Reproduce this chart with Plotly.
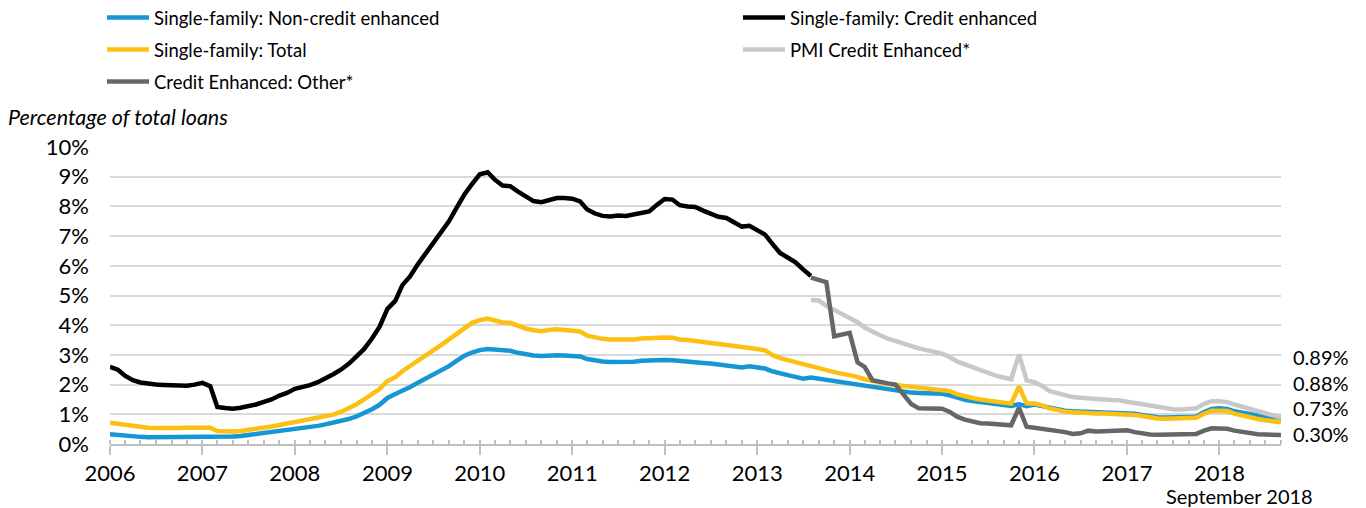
import pandas as pd
import plotly.graph_objects as go

# Monthly serious delinquency rates, % of total loans
months = pd.date_range("2006-01-01", "2018-09-01", freq="MS")

non_credit_enhanced = (
    [0.33, 0.30, 0.27, 0.25, 0.24, 0.23, 0.23, 0.23, 0.24, 0.25, 0.25, 0.26]    # 2006
    + [0.26, 0.26, 0.24, 0.24, 0.25, 0.27, 0.30, 0.34, 0.37, 0.42, 0.45, 0.49]  # 2007
    + [0.51, 0.54, 0.57, 0.61, 0.66, 0.72, 0.77, 0.84, 0.93, 1.04, 1.17, 1.32]  # 2008
    + [1.55, 1.68, 1.78, 1.92, 2.06, 2.20, 2.33, 2.47, 2.62, 2.80, 2.97, 3.08]  # 2009
    + [3.16, 3.20, 3.19, 3.16, 3.14, 3.07, 3.02, 2.98, 2.96, 2.98, 2.99, 2.98]  # 2010
    + [2.97, 2.95, 2.86, 2.81, 2.78, 2.76, 2.76, 2.75, 2.77, 2.80, 2.82, 2.83]  # 2011
    + [2.83, 2.82, 2.79, 2.78, 2.76, 2.73, 2.71, 2.68, 2.65, 2.62, 2.58, 2.62]  # 2012
    + [2.58, 2.54, 2.45, 2.37, 2.32, 2.26, 2.20, 2.24, 2.20, 2.14, 2.12, 2.08]  # 2013
    + [2.03, 2.01, 1.94, 1.90, 1.86, 1.82, 1.80, 1.76, 1.73, 1.72, 1.71, 1.70]  # 2014
    + [1.69, 1.64, 1.55, 1.49, 1.45, 1.41, 1.37, 1.34, 1.31, 1.28, 1.34, 1.27]  # 2015
    + [1.33, 1.28, 1.20, 1.15, 1.12, 1.10, 1.09, 1.08, 1.07, 1.07, 1.06, 1.05]  # 2016
    + [1.04, 1.02, 0.98, 0.93, 0.90, 0.89, 0.89, 0.89, 0.90, 0.92, 1.08, 1.18]  # 2017
    + [1.20, 1.18, 1.10, 1.04, 0.99, 0.96, 0.93, 0.91, 0.88]                    # 2018
)

credit_enhanced = (
    [2.60, 2.50, 2.30, 2.15, 2.07, 2.02, 2.00, 1.99, 1.98, 1.97, 1.96, 2.00]    # 2006
    + [2.06, 1.95, 1.25, 1.21, 1.19, 1.22, 1.27, 1.33, 1.42, 1.50, 1.63, 1.72]  # 2007
    + [1.86, 1.92, 1.98, 2.08, 2.20, 2.35, 2.50, 2.70, 2.95, 3.20, 3.55, 3.95]  # 2008
    + [4.55, 4.82, 5.35, 5.65, 6.05, 6.40, 6.75, 7.15, 7.50, 7.95, 8.40, 8.75]  # 2009
    + [9.08, 9.15, 8.90, 8.70, 8.68, 8.50, 8.32, 8.18, 8.14, 8.22, 8.28, 8.28]  # 2010
    + [8.26, 8.17, 7.90, 7.76, 7.68, 7.66, 7.69, 7.68, 7.72, 7.78, 7.83, 8.05]  # 2011
    + [8.25, 8.23, 8.04, 8.00, 7.98, 7.86, 7.75, 7.65, 7.61, 7.45, 7.32, 7.35]  # 2012
    + [7.20, 7.05, 6.75, 6.43, 6.28, 6.12, 5.88, 5.66]                          # 2013 (Jan-Aug)
)

total = (
    [0.72, 0.68, 0.63, 0.60, 0.57, 0.55, 0.54, 0.53, 0.53, 0.54, 0.55, 0.56]    # 2006
    + [0.56, 0.55, 0.44, 0.42, 0.42, 0.44, 0.47, 0.50, 0.54, 0.59, 0.64, 0.69]  # 2007
    + [0.74, 0.78, 0.82, 0.86, 0.92, 0.99, 1.08, 1.19, 1.34, 1.50, 1.68, 1.85]  # 2008
    + [2.12, 2.25, 2.45, 2.62, 2.78, 2.97, 3.15, 3.33, 3.52, 3.72, 3.92, 4.08]  # 2009
    + [4.17, 4.22, 4.16, 4.09, 4.08, 3.97, 3.89, 3.83, 3.80, 3.84, 3.86, 3.84]  # 2010
    + [3.83, 3.79, 3.65, 3.58, 3.54, 3.52, 3.51, 3.50, 3.52, 3.55, 3.57, 3.58]  # 2011
    + [3.59, 3.58, 3.52, 3.50, 3.47, 3.43, 3.39, 3.36, 3.33, 3.29, 3.25, 3.25]  # 2012
    + [3.20, 3.15, 3.00, 2.89, 2.82, 2.74, 2.67, 2.63, 2.56, 2.48, 2.42, 2.37]  # 2013
    + [2.32, 2.26, 2.18, 2.12, 2.06, 2.02, 1.99, 1.96, 1.93, 1.91, 1.89, 1.87]  # 2014
    + [1.84, 1.78, 1.68, 1.60, 1.55, 1.50, 1.46, 1.42, 1.39, 1.36, 1.94, 1.37]  # 2015
    + [1.36, 1.30, 1.20, 1.14, 1.09, 1.07, 1.05, 1.04, 1.03, 1.03, 1.02, 1.02]  # 2016
    + [1.00, 0.98, 0.94, 0.89, 0.86, 0.85, 0.85, 0.85, 0.86, 0.88, 1.02, 1.12]  # 2017
    + [1.12, 1.11, 1.02, 0.95, 0.88, 0.84, 0.80, 0.76, 0.73]                    # 2018
)

# Credit-enhanced split, reported from August 2013
pmi_credit_enhanced = (
    [4.85, 4.83, 4.65, 4.52, 4.38]                                              # 2013 (Aug-Dec)
    + [4.23, 4.10, 3.92, 3.78, 3.66, 3.55, 3.46, 3.38, 3.30, 3.22, 3.16, 3.10]  # 2014
    + [3.04, 2.92, 2.78, 2.68, 2.58, 2.48, 2.37, 2.30, 2.24, 2.18, 3.02, 2.14]  # 2015
    + [2.08, 1.95, 1.78, 1.70, 1.63, 1.58, 1.56, 1.53, 1.51, 1.50, 1.48, 1.47]  # 2016
    + [1.42, 1.38, 1.33, 1.28, 1.23, 1.19, 1.17, 1.16, 1.17, 1.20, 1.35, 1.44]  # 2017
    + [1.44, 1.41, 1.33, 1.25, 1.17, 1.09, 1.02, 0.95, 0.89]                    # 2018
)

other_credit_enhanced = (
    [5.60, 5.52, 5.45, 3.63, 3.68]                                              # 2013 (Aug-Dec)
    + [3.74, 2.75, 2.60, 2.15, 2.08, 2.04, 2.00, 1.65, 1.35, 1.20, 1.19, 1.19]  # 2014
    + [1.19, 1.08, 0.92, 0.82, 0.76, 0.70, 0.69, 0.68, 0.65, 0.63, 1.22, 0.58]  # 2015
    + [0.55, 0.52, 0.49, 0.45, 0.40, 0.34, 0.36, 0.45, 0.42, 0.43, 0.44, 0.45]  # 2016
    + [0.46, 0.40, 0.35, 0.32, 0.31, 0.31, 0.31, 0.31, 0.32, 0.34, 0.45, 0.53]  # 2017
    + [0.52, 0.51, 0.45, 0.40, 0.36, 0.33, 0.32, 0.31, 0.30]                    # 2018
)

split_months = months[len(months) - len(pmi_credit_enhanced):]

series = [
    ("Single-family: Non-credit enhanced", months, non_credit_enhanced, "#1696D2"),
    ("Single-family: Credit enhanced", months[:len(credit_enhanced)], credit_enhanced, "#000000"),
    ("Single-family: Total", months, total, "#FDBF11"),
    ("PMI Credit Enhanced*", split_months, pmi_credit_enhanced, "#C8C8C8"),
    ("Credit Enhanced: Other*", split_months, other_credit_enhanced, "#666666"),
]

FONT = "Lato, 'Open Sans', sans-serif"
W, H = 1366, 508
PLOT_L, PLOT_R, PLOT_T, PLOT_B = 110, 1281, 147, 444

# Legend grid: two columns, three rows (left edge and vertical centre, px)
legend_slots = [(102, 18), (738, 18), (102, 50), (738, 50), (102, 82)]


def px_x(x):
    return (x - PLOT_L) / (PLOT_R - PLOT_L)


def px_y(y):
    return (PLOT_B - y) / (PLOT_B - PLOT_T)


fig = go.Figure()
legend_layouts = {}
for i, (name, xs, ys, color) in enumerate(series):
    key = "legend" if i == 0 else f"legend{i + 1}"
    fig.add_trace(go.Scatter(
        x=xs, y=ys, name=name, mode="lines",
        line=dict(color=color, width=4.5), legend=key,
    ))
    lx, ly = legend_slots[i]
    legend_layouts[key] = dict(
        orientation="h", xref="container", yref="container",
        x=lx / W, y=1 - ly / H, xanchor="left", yanchor="middle",
        itemwidth=42, font=dict(family=FONT, size=18.5, color="#000000"),
        bgcolor="rgba(0,0,0,0)", borderwidth=0,
    )

# End-of-period value labels, stacked beside the last month
end_values = [pmi_credit_enhanced[-1], non_credit_enhanced[-1], total[-1], other_credit_enhanced[-1]]
label_rows_px = [357, 383, 408, 434]
annotations = []
for v, ypx in zip(end_values, label_rows_px):
    annotations.append(dict(
        text=f"{v:.2f}%", xref="paper", x=px_x(1291), xanchor="left",
        yref="paper", y=px_y(ypx), yanchor="middle",
        showarrow=False, font=dict(family=FONT, size=20, color="#000000"),
    ))

annotations.append(dict(
    text="Percentage of total loans", xref="paper", x=px_x(6), xanchor="left",
    yref="paper", y=px_y(117), yanchor="middle", showarrow=False,
    font=dict(family=FONT, size=21.5, color="#000000", style="italic"),
))
annotations.append(dict(
    text="September 2018", xref="paper", x=px_x(1239), xanchor="center",
    yref="paper", y=px_y(496), yanchor="middle", showarrow=False,
    font=dict(family=FONT, size=20, color="#000000"),
))

fig.update_layout(
    width=W, height=H,
    margin=dict(l=PLOT_L, r=W - PLOT_R, t=PLOT_T, b=H - PLOT_B, pad=0),
    paper_bgcolor="white", plot_bgcolor="white",
    font=dict(family=FONT, size=20, color="#000000"),
    showlegend=True,
    annotations=annotations,
    xaxis=dict(
        type="date", range=[months[0], months[-1]],
        tick0=months[0], dtick="M12", tickformat="%Y",
        ticks="outside", ticklen=9, tickwidth=1.5, tickcolor="#BFBFBF",
        showline=True, linecolor="#BFBFBF", linewidth=1.5,
        showgrid=False, zeroline=False, ticklabelstandoff=0,
        tickfont=dict(family=FONT, size=22, color="#000000"),
        minor=dict(dtick="M2", ticks="inside", ticklen=4, tickwidth=1.5,
                   tickcolor="#BFBFBF", showgrid=False),
    ),
    yaxis=dict(
        range=[0, 10], dtick=1, ticksuffix="%",
        showgrid=True, gridcolor="#D9D9D9", gridwidth=2,
        zeroline=False, showline=False, ticks="", ticklabelstandoff=20,
        tickfont=dict(family=FONT, size=22, color="#000000"),
    ),
    **legend_layouts,
)

fig.write_html("out.html")
